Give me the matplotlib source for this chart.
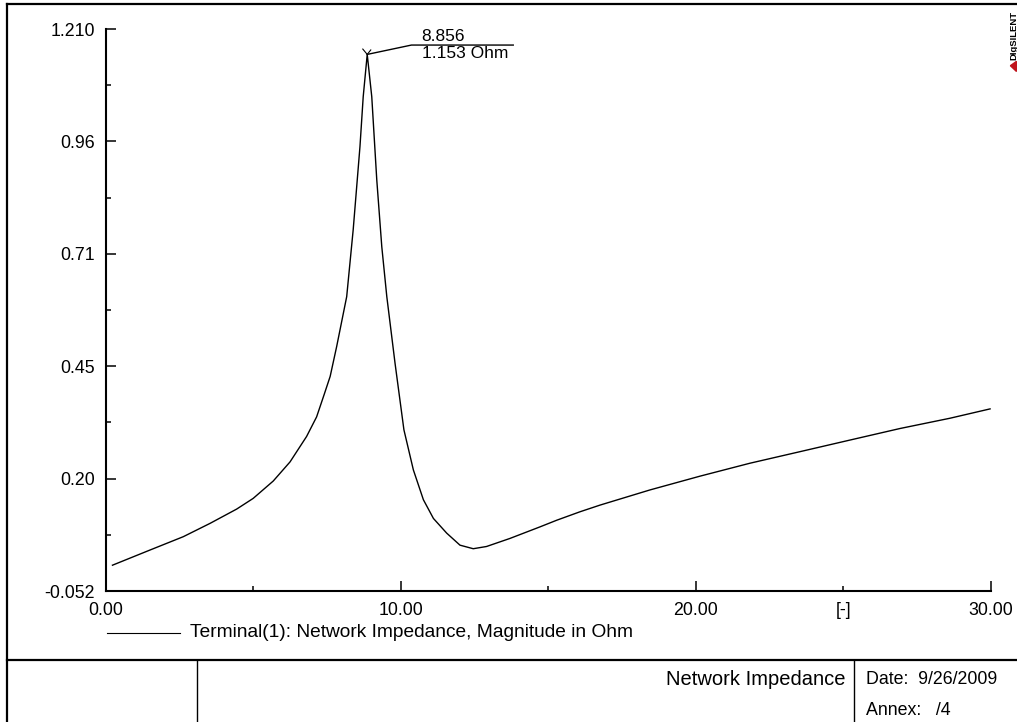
import numpy as np
import matplotlib
matplotlib.use("Agg")
import matplotlib.pyplot as plt
from matplotlib.lines import Line2D
from matplotlib.patches import Polygon

plt.rcParams['font.family'] = ['Liberation Sans', 'DejaVu Sans']

# harmonic order [-] vs network impedance magnitude [Ohm]
harmonic_order = [0.22, 1.49, 2.62, 3.53, 4.43, 4.99, 5.67, 6.24, 6.80, 7.14,
                  7.40, 7.60, 7.82, 8.16, 8.38, 8.61, 8.72, 8.856, 9.01, 9.18,
                  9.35, 9.52, 9.80, 10.10, 10.42, 10.76, 11.10, 11.55, 12.00, 12.45,
                  12.90, 13.69, 14.71, 15.28, 16.07, 16.75, 18.44, 20.14, 21.83, 23.53,
                  25.22, 26.92, 28.61, 29.97]
impedance = [0.006, 0.040, 0.070, 0.100, 0.132, 0.156, 0.195, 0.238, 0.295, 0.339,
             0.390, 0.430, 0.497, 0.609, 0.759, 0.946, 1.058, 1.153, 1.058, 0.871,
             0.721, 0.609, 0.459, 0.310, 0.220, 0.153, 0.111, 0.078, 0.051, 0.043,
             0.048, 0.066, 0.092, 0.107, 0.126, 0.141, 0.175, 0.206, 0.235, 0.261,
             0.287, 0.313, 0.336, 0.357]

y_min, y_max = -0.052, 1.210
y_tick_labels = ["-0.052", "0.20", "0.45", "0.71", "0.96", "1.210"]
x_major = [0, 10, 20, 30]
x_major_labels = ["0.00", "10.00", "20.00", "30.00"]
x_minor = [5, 15, 25]
x_minor_labels = ["", "", "[-]"]

legend_text = "Terminal(1): Network Impedance, Magnitude in Ohm"
title_text = "Network Impedance"
date_text = "Date:  9/26/2009"
annex_text = "Annex:   /4"

fig = plt.figure(figsize=(10.17, 7.22), dpi=100)
ax = fig.add_axes([0.1042, 0.1814, 0.8702, 0.7784])

ax.plot(harmonic_order, impedance, color='black', lw=1.0)

ax.set_xlim(0, 30)
ax.set_ylim(y_min, y_max)

y_major = np.linspace(y_min, y_max, 6)
y_minor = (y_major[:-1] + y_major[1:]) / 2
ax.set_yticks(y_major)
ax.set_yticklabels(y_tick_labels)
ax.set_yticks(y_minor, minor=True)
ax.set_xticks(x_major)
ax.set_xticklabels(x_major_labels)
ax.set_xticks(x_minor, minor=True)
ax.set_xticklabels(x_minor_labels, minor=True)

ax.tick_params(which='major', direction='in', length=7.2, width=1.1, labelsize=12.8, pad=8)
ax.tick_params(which='minor', direction='in', length=3.6, width=1.1, labelsize=12.8, pad=8)
ax.tick_params(axis='y', which='both', pad=8)

for side in ['top', 'right']:
    ax.spines[side].set_visible(False)
for side in ['left', 'bottom']:
    ax.spines[side].set_linewidth(1.5)

# peak annotation
i_pk = int(np.argmax(impedance))
x_pk, y_pk = harmonic_order[i_pk], impedance[i_pk]
x_elb, y_elb = x_pk + 1.5, y_pk + 0.021
x_end = x_elb + 3.45
ax.plot([x_pk, x_elb, x_end], [y_pk, y_elb, y_elb], color='black', lw=1.0, clip_on=False)
ax.plot([x_pk - 0.15, x_pk, x_pk + 0.12], [y_pk + 0.012, y_pk, y_pk + 0.01],
        color='black', lw=0.8, clip_on=False)
ax.text(x_elb + 0.34, y_elb + 0.003, f"{x_pk:.3f}", fontsize=12.5, ha='left', va='bottom')
ax.text(x_elb + 0.34, y_elb - 0.003, f"{y_pk:.3f} Ohm", fontsize=12.5, ha='left', va='top')

# legend line + text
fig.add_artist(Line2D([0.1052, 0.177], [0.1233, 0.1233], color='black', lw=0.8))
fig.text(0.1868, 0.1233, legend_text, fontsize=13.8, ha='left', va='center')

# page frame
frame_kw = dict(color='black', lw=1.6)
fig.add_artist(Line2D([0.0069, 1.0], [0.9945, 0.9945], **frame_kw))
fig.add_artist(Line2D([0.0069, 0.0069], [0.0, 0.9945], **frame_kw))
fig.add_artist(Line2D([0.0069, 1.0], [0.0859, 0.0859], **frame_kw))
fig.add_artist(Line2D([0.1937, 0.1937], [0.0, 0.0859], color='black', lw=1.0))
fig.add_artist(Line2D([0.8397, 0.8397], [0.0, 0.0859], color='black', lw=1.0))

fig.text(0.8309, 0.0582, title_text, fontsize=14.5, ha='right', va='center')
fig.text(0.8515, 0.0582, date_text, fontsize=12.8, ha='left', va='center')
fig.text(0.8515, 0.0166, annex_text, fontsize=12.8, ha='left', va='center')

# logo
fig.text(0.9965, 0.951, "DIgSILENT", fontsize=6.8, fontweight='bold', rotation=90,
         ha='center', va='center')
fig.add_artist(Polygon([[0.9935, 0.909], [0.9995, 0.901], [0.9995, 0.915]],
                       closed=True, color='#c0141c', transform=fig.transFigure))

fig.savefig("out.png", dpi=100)
